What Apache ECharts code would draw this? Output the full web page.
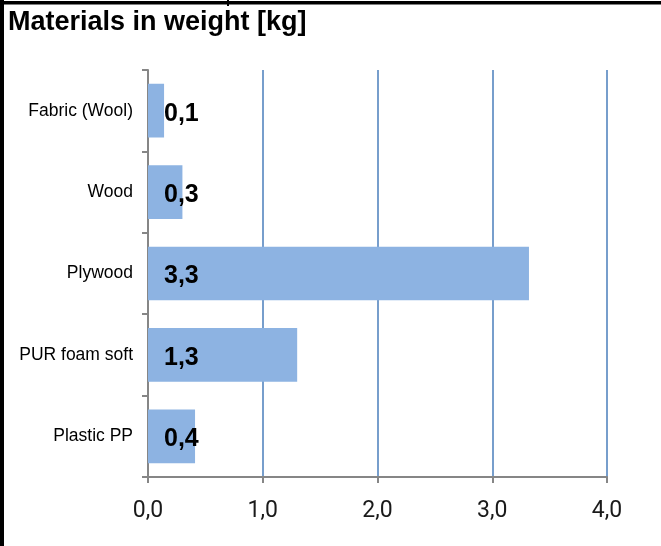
<!DOCTYPE html>
<html><head><meta charset="utf-8">
<script src="https://cdn.jsdelivr.net/npm/echarts@6/dist/echarts.min.js"></script>
<style>html,body{margin:0;padding:0;background:#fff}#c{width:661px;height:546px}</style>
</head><body><div id="c"></div>
<script>
const categories = ['Fabric (Wool)', 'Wood', 'Plywood', 'PUR foam soft', 'Plastic PP'];
const weights = [0.14, 0.3, 3.32, 1.3, 0.41];
const xTicks = [0, 1, 2, 3, 4];
const titleText = 'Materials in weight [kg]';

const fmt = v => v.toFixed(1).replace('.', ',');
const chart = echarts.init(document.getElementById('c'), null, {renderer: 'canvas'});
chart.setOption({
  animation: false,
  backgroundColor: '#fff',
  title: {
    text: titleText, left: 3, top: 4,
    textStyle: {fontFamily: "'Liberation Sans', Arial, sans-serif", fontWeight: 'bold', fontSize: 27, color: '#000'}
  },
  grid: {left: 148, right: 54, top: 70, bottom: 69, containLabel: false},
  xAxis: {
    type: 'value', min: xTicks[0], max: xTicks[xTicks.length - 1], interval: 1,
    axisLine: {show: true, lineStyle: {color: '#868686', width: 2}},
    axisTick: {show: true, length: 6, lineStyle: {color: '#868686', width: 2}},
    axisLabel: {margin: 23, fontFamily: 'Roboto, sans-serif', fontSize: 23, color: '#1a1a1a', formatter: v => fmt(v)},
    splitLine: {show: true, lineStyle: {color: '#4a7ebb', width: 1.5}}
  },
  yAxis: {
    type: 'category', data: categories, inverse: true,
    axisLine: {show: true, lineStyle: {color: '#868686', width: 2}},
    axisTick: {show: true, length: 6, lineStyle: {color: '#868686', width: 2}},
    axisLabel: {margin: 15, fontFamily: "'Liberation Sans', Arial, sans-serif", fontSize: 17.5, color: '#000'}
  },
  series: [{
    type: 'bar', data: weights, barCategoryGap: '34%',
    itemStyle: {color: '#8db3e2'},
    label: {
      show: true, position: 'insideLeft', distance: 16, offset: [0, 3],
      fontFamily: "'Liberation Sans', Arial, sans-serif", fontWeight: 'bold', fontSize: 25, color: '#000',
      formatter: p => fmt(p.value)
    }
  }],
  graphic: [
    {type: 'rect', shape: {x: 0, y: 1, width: 661, height: 3.5}, style: {fill: '#000'}, z: 100},
    {type: 'rect', shape: {x: 0, y: 0, width: 4, height: 546}, style: {fill: '#000'}, z: 100},
    {type: 'rect', shape: {x: 227, y: 0, width: 2, height: 6}, style: {fill: '#000'}, z: 100}
  ]
});
</script></body></html>
